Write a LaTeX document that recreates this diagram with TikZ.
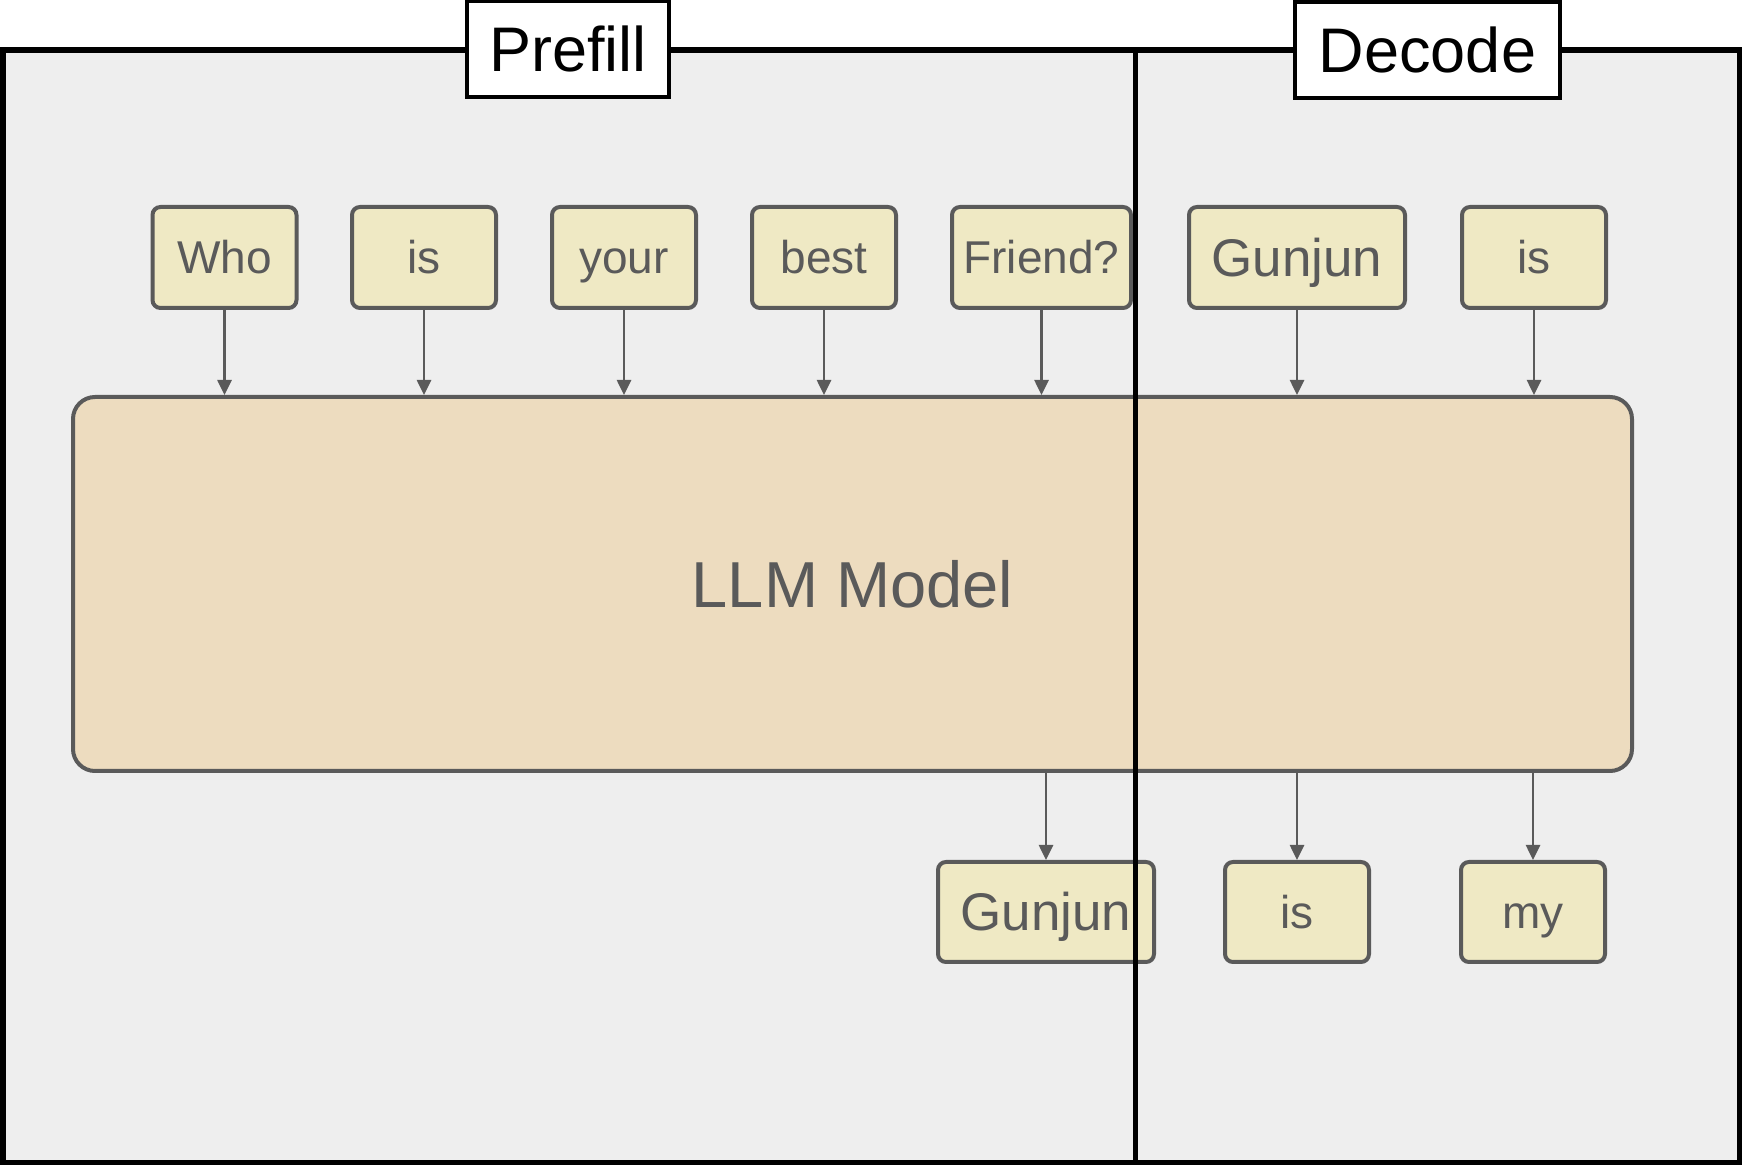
\documentclass[tikz,border=0pt]{standalone}
\usepackage{fontspec}
\setmainfont{Liberation Sans}
\usetikzlibrary{arrows.meta}
\definecolor{inkgray}{HTML}{5A5A5A}
\definecolor{tokfill}{HTML}{EFE9C4}
\definecolor{modelfill}{HTML}{EDDCBF}
\definecolor{panelfill}{HTML}{EEEEEE}
\tikzset{
  token/.style={draw=inkgray, line width=2pt, fill=tokfill, rounded corners=4pt,
    text=inkgray, font=\fontsize{23}{23}\selectfont, inner sep=0pt,
    minimum width=72pt, minimum height=50.5pt, text height=16.5pt, text depth=0pt},
  bigtoken/.style={token, font=\fontsize{26.5}{26.5}\selectfont, text height=19pt,
    minimum width=108pt},
  model/.style={draw=inkgray, line width=2pt, fill=modelfill, rounded corners=11pt,
    text=inkgray, font=\fontsize{32.5}{32.5}\selectfont, inner sep=0pt,
    minimum width=779.5pt, minimum height=187pt, text height=23.3pt, text depth=0pt},
  phase/.style={draw=black, line width=1.8pt, fill=white, inner sep=0pt,
    font=\fontsize{31.5}{31.5}\selectfont, text=black, text height=22.6pt, text depth=0pt},
  arr/.style={draw=inkgray, line width=1.3pt, -{Triangle[length=7.5pt,width=7pt]}},
  frame/.style={draw=black, line width=2.6pt}
}
\begin{document}
\begin{tikzpicture}[x=0.5pt,y=-0.5pt]
  \useasboundingbox (0,0) rectangle (1742,1165);
  % panel background
  \fill[panelfill] (3,50) rectangle (1740,1163);

  % model block
  \node[model] (llm) at (852.5,584) {LLM Model};

  % input tokens
  \node[token] (t1) at (224.5,257.5) {Who};
  \node[token] (t2) at (424,257.5) {is};
  \node[token] (t3) at (624,257.5) {your};
  \node[token] (t4) at (824,257.5) {best};
  \node[token, minimum width=89.5pt] (t5) at (1041.5,257.5) {Friend?};
  \node[bigtoken] (t6) at (1297,257.5) {Gunjun};
  \node[token] (t7) at (1534,257.5) {is};

  % output tokens
  \node[bigtoken, minimum height=50pt] (o1) at (1046,912) {Gunjun};
  \node[token, minimum height=50pt] (o2) at (1297,912) {is};
  \node[token, minimum height=50pt] (o3) at (1533,912) {my};

  % token flow
  \foreach \t in {t1,t2,t3,t4,t5,t6,t7}
    \draw[arr] (\t.south) -- (\t.south |- llm.north);
  \foreach \o in {o1,o2,o3}
    \draw[arr] (llm.south -| \o.north) -- (\o.north);

  % outer frame and phase divider
  \coordinate (ftop) at (1135.5,50);
  \coordinate (fbot) at (1135.5,1163);
  \draw[frame] (3,50) rectangle (1740,1163);
  \draw[frame] (ftop) -- (fbot);

  % phase labels
  \node[phase, minimum width=101pt, minimum height=48pt] (prefill) at (568,49) {Prefill};
  \node[phase, minimum width=132.5pt, minimum height=48pt] (decode) at (1427.5,50) {Decode};
\end{tikzpicture}
\end{document}
